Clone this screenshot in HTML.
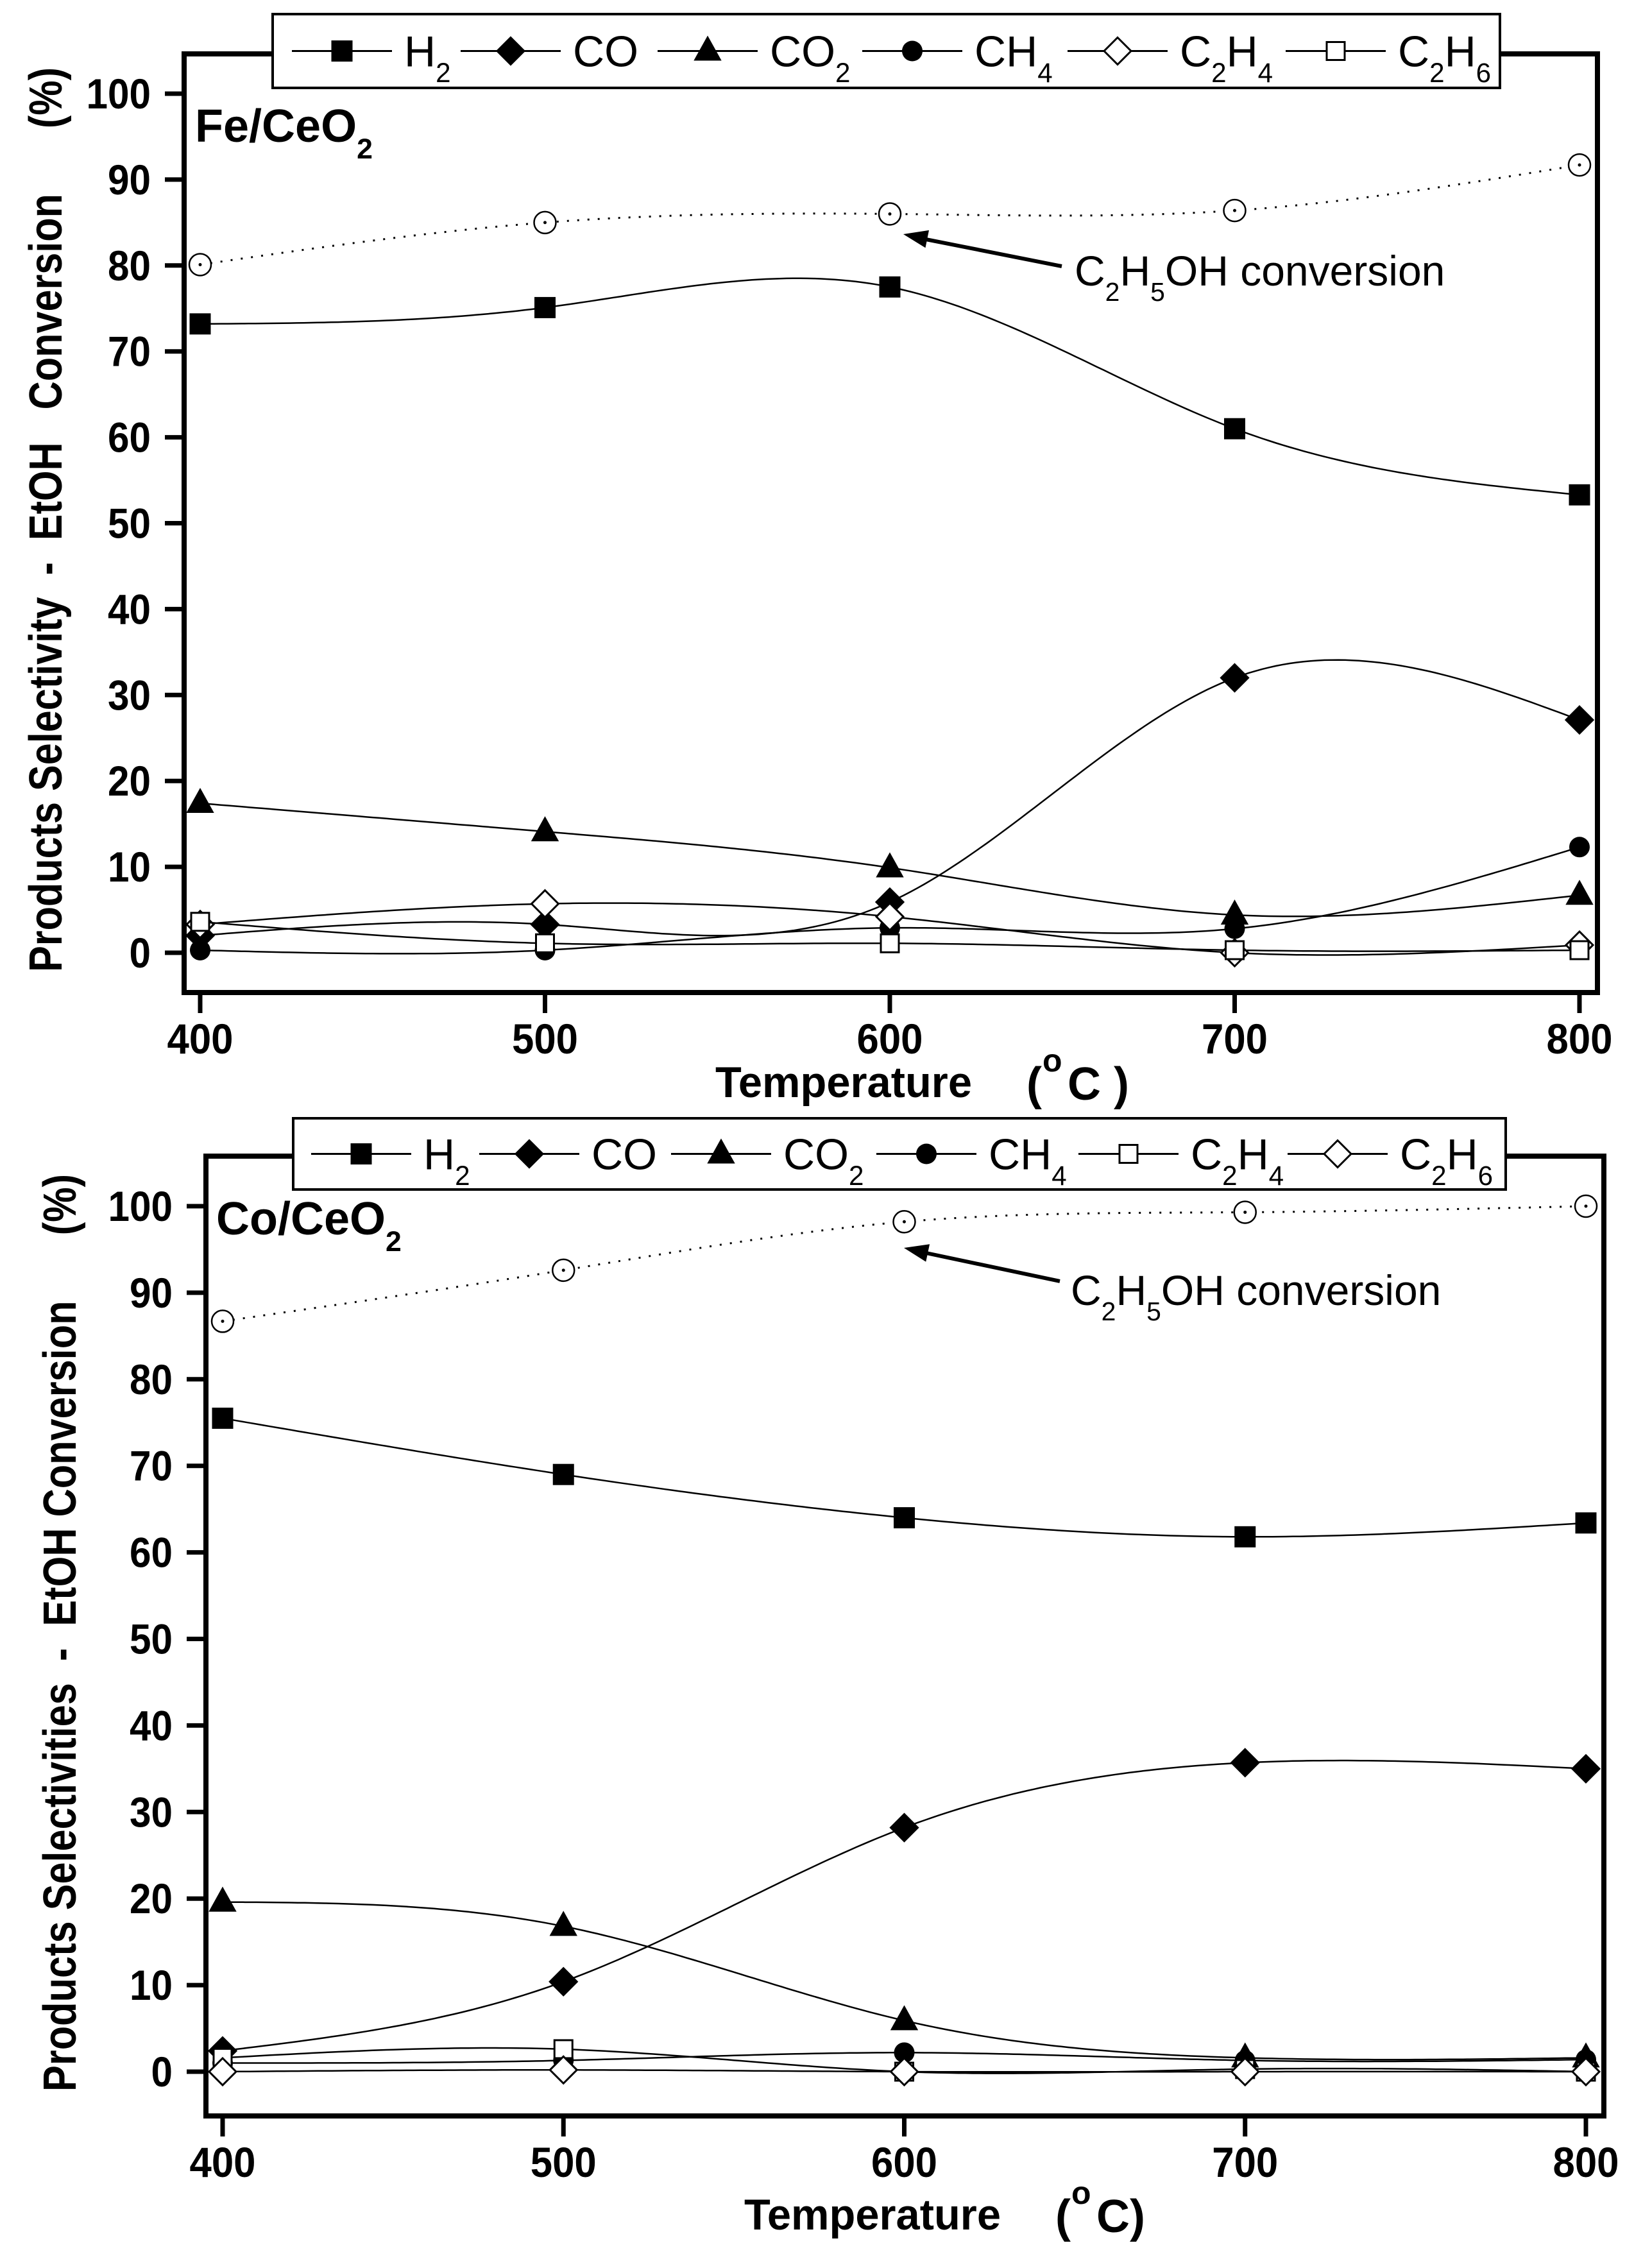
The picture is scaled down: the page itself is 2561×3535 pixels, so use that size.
<!DOCTYPE html>
<html><head><meta charset="utf-8"><style>
html,body{margin:0;padding:0;background:#fff}
svg{display:block}
text{font-family:"Liberation Sans",Arial,sans-serif;fill:#000}
</style></head><body>
<svg id="fig" width="2561" height="3535" viewBox="0 0 2561 3535" xmlns="http://www.w3.org/2000/svg"></svg>
<script>
// ---- data ----
const temps = [400, 500, 600, 700, 800];
const yTicks = [0, 10, 20, 30, 40, 50, 60, 70, 80, 90, 100];
const xTicks = [400, 500, 600, 700, 800];
// Fe/CeO2 panel
const feH2   = [73.2, 75.1, 77.5, 61.0, 53.3];
const feCO   = [2.0, 3.3, 5.9, 32.0, 27.1];
const feCO2  = [17.4, 14.1, 9.9, 4.4, 6.7];
const feCH4  = [0.3, 0.3, 2.9, 2.8, 12.3];
const feC2H4 = [3.3, 5.7, 4.2, 0.0, 0.9];
const feC2H6 = [3.6, 1.1, 1.1, 0.3, 0.3];
const feConv = [80.1, 85.0, 86.0, 86.4, 91.7];
// Co/CeO2 panel
const coH2   = [75.5, 69.0, 64.0, 61.8, 63.4];
const coCO   = [2.4, 10.4, 28.2, 35.7, 35.0];
const coCO2  = [19.6, 16.8, 5.9, 1.6, 1.6];
const coCH4  = [1.0, 1.3, 2.2, 1.3, 1.4];
const coC2H4 = [1.6, 2.6, 0.0, 0.3, 0.0];
const coC2H6 = [0.0, 0.2, 0.0, 0.0, 0.0];
const coConv = [86.7, 92.6, 98.2, 99.3, 100.0];

const NS = "http://www.w3.org/2000/svg";
const svg = document.getElementById('fig');
function mk(tag, attrs, parent){
  const e = document.createElementNS(NS, tag);
  for (const k in attrs) e.setAttribute(k, attrs[k]);
  (parent||svg).appendChild(e);
  return e;
}
function spline(xs, ys){
  const n = xs.length, h=[], a=[], l=[1], mu=[0], z=[0], c=new Array(n).fill(0), b=[], d=[];
  for(let i=0;i<n-1;i++) h.push(xs[i+1]-xs[i]);
  for(let i=1;i<n-1;i++) a[i]=3/h[i]*(ys[i+1]-ys[i])-3/h[i-1]*(ys[i]-ys[i-1]);
  for(let i=1;i<n-1;i++){ l[i]=2*(xs[i+1]-xs[i-1])-h[i-1]*mu[i-1]; mu[i]=h[i]/l[i]; z[i]=(a[i]-h[i-1]*z[i-1])/l[i]; }
  l[n-1]=1; z[n-1]=0;
  for(let j=n-2;j>=0;j--){ c[j]=z[j]-mu[j]*c[j+1]; b[j]=(ys[j+1]-ys[j])/h[j]-h[j]*(c[j+1]+2*c[j])/3; d[j]=(c[j+1]-c[j])/(3*h[j]); }
  return function(x){ let j=0; while(j<n-2 && x>xs[j+1]) j++; const t=x-xs[j]; return ys[j]+b[j]*t+c[j]*t*t+d[j]*t*t*t; };
}
function marker(g, kind, cx, cy){
  let e;
  if(kind==='sq'||kind==='osq'){ const s=(kind==='sq')?30:28; e=mk('rect',{x:cx-s/2,y:cy-s/2,width:s,height:s,fill:kind==='sq'?'#000':'#fff',stroke:'#000','stroke-width':3},g); }
  else if(kind==='dia'||kind==='odia'){ const r=21; e=mk('polygon',{points:`${cx},${cy-r} ${cx+r},${cy} ${cx},${cy+r} ${cx-r},${cy}`,fill:kind==='dia'?'#000':'#fff',stroke:'#000','stroke-width':3},g); }
  else if(kind==='tri'){ e=mk('polygon',{points:`${cx},${cy-22} ${cx+20},${cy+14} ${cx-20},${cy+14}`,fill:'#000',stroke:'#000','stroke-width':2},g); }
  else if(kind==='cir'){ e=mk('circle',{cx:cx,cy:cy,r:16,fill:'#000'},g); }
  else if(kind==='ocir'){ e=mk('circle',{cx:cx,cy:cy,r:17,fill:'#fff',stroke:'#000','stroke-width':2.5},g); mk('circle',{cx:cx,cy:cy,r:2.5,fill:'#000'},g); }
  return e;
}
function subText(g, x, y, parts, size, name){
  const t = mk('text',{x:x,y:y,'font-size':size},g);
  
  
  parts.forEach(p=>{ const ts=mk('tspan',{},t); ts.textContent=p[0];
    if(p[1]==='sub'){ts.setAttribute('font-size',size*0.62);ts.setAttribute('dy',size*0.36);}
    if(p[1]==='back'){ts.setAttribute('dy',-size*0.36);} });
  return t;
}

function panel(cfg){
  const g = mk('g',{});
  
  
  const X = v => cfg.x0 + (v-400)/400*(cfg.x1-cfg.x0);
  const Y = v => cfg.y0 - v*(cfg.y0-cfg.y100)/100;
  const fr = mk('rect',{x:cfg.fl,y:cfg.ft,width:cfg.fr-cfg.fl,height:cfg.fb-cfg.ft,fill:'none',stroke:'#000','stroke-width':8},g);
  
  
  yTicks.forEach(v=>{
    mk('line',{x1:cfg.fl-30,x2:cfg.fl,y1:Y(v),y2:Y(v),stroke:'#000','stroke-width':7},g);
    const t = mk('text',{x:cfg.fl-52,y:Y(v)+23,'font-size':66,'text-anchor':'end','font-weight':'bold',textLength:String(v).length*33.5,lengthAdjust:'spacingAndGlyphs'},g);
    t.textContent = v;
    
    
  });
  xTicks.forEach(v=>{
    mk('line',{x1:X(v),x2:X(v),y1:cfg.fb,y2:cfg.fb+32,stroke:'#000','stroke-width':7},g);
    const t = mk('text',{x:X(v),y:cfg.fb+95,'font-size':66,'text-anchor':'middle','font-weight':'bold',textLength:103,lengthAdjust:'spacingAndGlyphs'},g);
    t.textContent = v;
    
    
  });
  const xt = mk('text',{x:cfg.xtX,y:cfg.xtY,'font-size':68,'font-weight':'bold',textLength:400,lengthAdjust:'spacingAndGlyphs'},g);
  xt.textContent='Temperature';
  
  
  const u = mk('text',{x:cfg.xtX+485,y:cfg.xtY+4,'font-size':72,'font-weight':'bold',style:'white-space:pre'},g);
  u.textContent = cfg.unitSpace ? '(  C )' : '(  C)';
  
  
  const o = mk('text',{x:cfg.xtX+510,y:cfg.xtY-40,'font-size':50,'font-weight':'bold'},g);
  o.textContent='o';
  
  
  const yt = mk('text',{x:0,y:0,'font-size':72,'font-weight':'bold','text-anchor':'middle',style:'white-space:pre',textLength:cfg.ytLen,lengthAdjust:'spacingAndGlyphs',transform:`translate(${cfg.ytX},${cfg.ytC}) rotate(-90)`},g);
  yt.textContent = cfg.yTitle;
  
  
  const sl = subText(g, cfg.lblX, cfg.lblY, [[cfg.sample,''],['2','sub']], 72, 'sample-label');
  sl.setAttribute('font-weight','bold');
  cfg.series.forEach(s=>{
    const f = spline(temps, s.vals);
    let d='';
    for(let x=400;x<=800;x+=2){ d += (x===400?'M':'L')+X(x).toFixed(1)+','+Y(f(x)).toFixed(1)+' '; }
    const p = mk('path',{d:d,fill:'none',stroke:'#000','stroke-width':s.dotted?3:2.5,'stroke-dasharray':s.dotted?'3 13':'none'},g);
    
    
    s.vals.forEach((v,i)=>{
      const m = marker(g, s.mk, X(temps[i]), Y(v));
      
      
    });
  });
  const ar = mk('line',{x1:cfg.arr[0],y1:cfg.arr[1],x2:cfg.arr[2]+30,y2:cfg.arr[3]+7,stroke:'#000','stroke-width':6},g);
  
  
  const ang = Math.atan2(cfg.arr[1]-cfg.arr[3], cfg.arr[0]-cfg.arr[2]);
  const hx=cfg.arr[2], hy=cfg.arr[3], L=38, W=14;
  const bx=hx+L*Math.cos(ang), by=hy+L*Math.sin(ang);
  mk('polygon',{points:`${hx},${hy} ${bx-W*Math.sin(ang)},${by+W*Math.cos(ang)} ${bx+W*Math.sin(ang)},${by-W*Math.cos(ang)}`,fill:'#000'},g);
  subText(g, cfg.annX, cfg.annY, [['C',''],['2','sub'],['H','back'],['5','sub'],['OH conversion','back']], 66, 'conversion-annotation');
  const lg = mk('g',{},g);
  
  
  mk('rect',{x:cfg.leg[0],y:cfg.leg[1],width:cfg.leg[2]-cfg.leg[0],height:cfg.leg[3]-cfg.leg[1],fill:'#fff',stroke:'#000','stroke-width':4},lg);
  const cy=(cfg.leg[1]+cfg.leg[3])/2;
  cfg.legItems.forEach((it,i)=>{
    const mx = cfg.legMx[i];
    mk('line',{x1:mx-78,x2:mx+78,y1:cy,y2:cy,stroke:'#000','stroke-width':3},lg);
    const m = marker(lg, it.mk, mx, cy);
    
    
    subText(lg, mx+97, cy+24, it.parts, 68, 'legend-entry');
  });
}

const legFe = [
  {mk:'sq',parts:[['H',''],['2','sub']]},
  {mk:'dia',parts:[['CO','']]},
  {mk:'tri',parts:[['CO',''],['2','sub']]},
  {mk:'cir',parts:[['CH',''],['4','sub']]},
  {mk:'odia',parts:[['C',''],['2','sub'],['H','back'],['4','sub']]},
  {mk:'osq',parts:[['C',''],['2','sub'],['H','back'],['6','sub']]}
];
const legCo = [
  {mk:'sq',parts:[['H',''],['2','sub']]},
  {mk:'dia',parts:[['CO','']]},
  {mk:'tri',parts:[['CO',''],['2','sub']]},
  {mk:'cir',parts:[['CH',''],['4','sub']]},
  {mk:'osq',parts:[['C',''],['2','sub'],['H','back'],['4','sub']]},
  {mk:'odia',parts:[['C',''],['2','sub'],['H','back'],['6','sub']]}
];

panel({name:'fe-panel', x0:312, x1:2462, y0:1485, y100:146, fl:287, fr:2490, ft:84, fb:1547,
  xtX:1115, xtY:1710, unitSpace:true, ytX:96, ytC:810, ytLen:1410,
  yTitle:'Products Selectivity  -  EtOH   Conversion      (%)',
  lblX:304, lblY:221, sample:'Fe/CeO',
  arr:[1655,415,1408,365], annX:1675, annY:445,
  leg:[425,22,2338,137], legMx:[533,796,1103,1422,1742,2082], legItems:legFe,
  series:[
    {id:'h2',mk:'sq',vals:feH2},{id:'co',mk:'dia',vals:feCO},{id:'co2',mk:'tri',vals:feCO2},
    {id:'ch4',mk:'cir',vals:feCH4},{id:'c2h4',mk:'odia',vals:feC2H4},{id:'c2h6',mk:'osq',vals:feC2H6},
    {id:'conversion',mk:'ocir',vals:feConv,dotted:true}
  ]});

panel({name:'co-panel', x0:347, x1:2472, y0:3229, y100:1880, fl:321, fr:2500, ft:1802, fb:3298,
  xtX:1160, xtY:3475, unitSpace:false, ytX:118, ytC:2545, ytLen:1430,
  yTitle:'Products Selectivities  -  EtOH Conversion      (%)',
  lblX:337, lblY:1924, sample:'Co/CeO',
  arr:[1652,1997,1409,1945], annX:1669, annY:2034,
  leg:[457,1743,2347,1854], legMx:[563,825,1124,1444,1759,2085], legItems:legCo,
  series:[
    {id:'h2',mk:'sq',vals:coH2},{id:'co',mk:'dia',vals:coCO},{id:'co2',mk:'tri',vals:coCO2},
    {id:'ch4',mk:'cir',vals:coCH4},{id:'c2h4',mk:'osq',vals:coC2H4},{id:'c2h6',mk:'odia',vals:coC2H6},
    {id:'conversion',mk:'ocir',vals:coConv,dotted:true}
  ]});
</script>
</body></html>
